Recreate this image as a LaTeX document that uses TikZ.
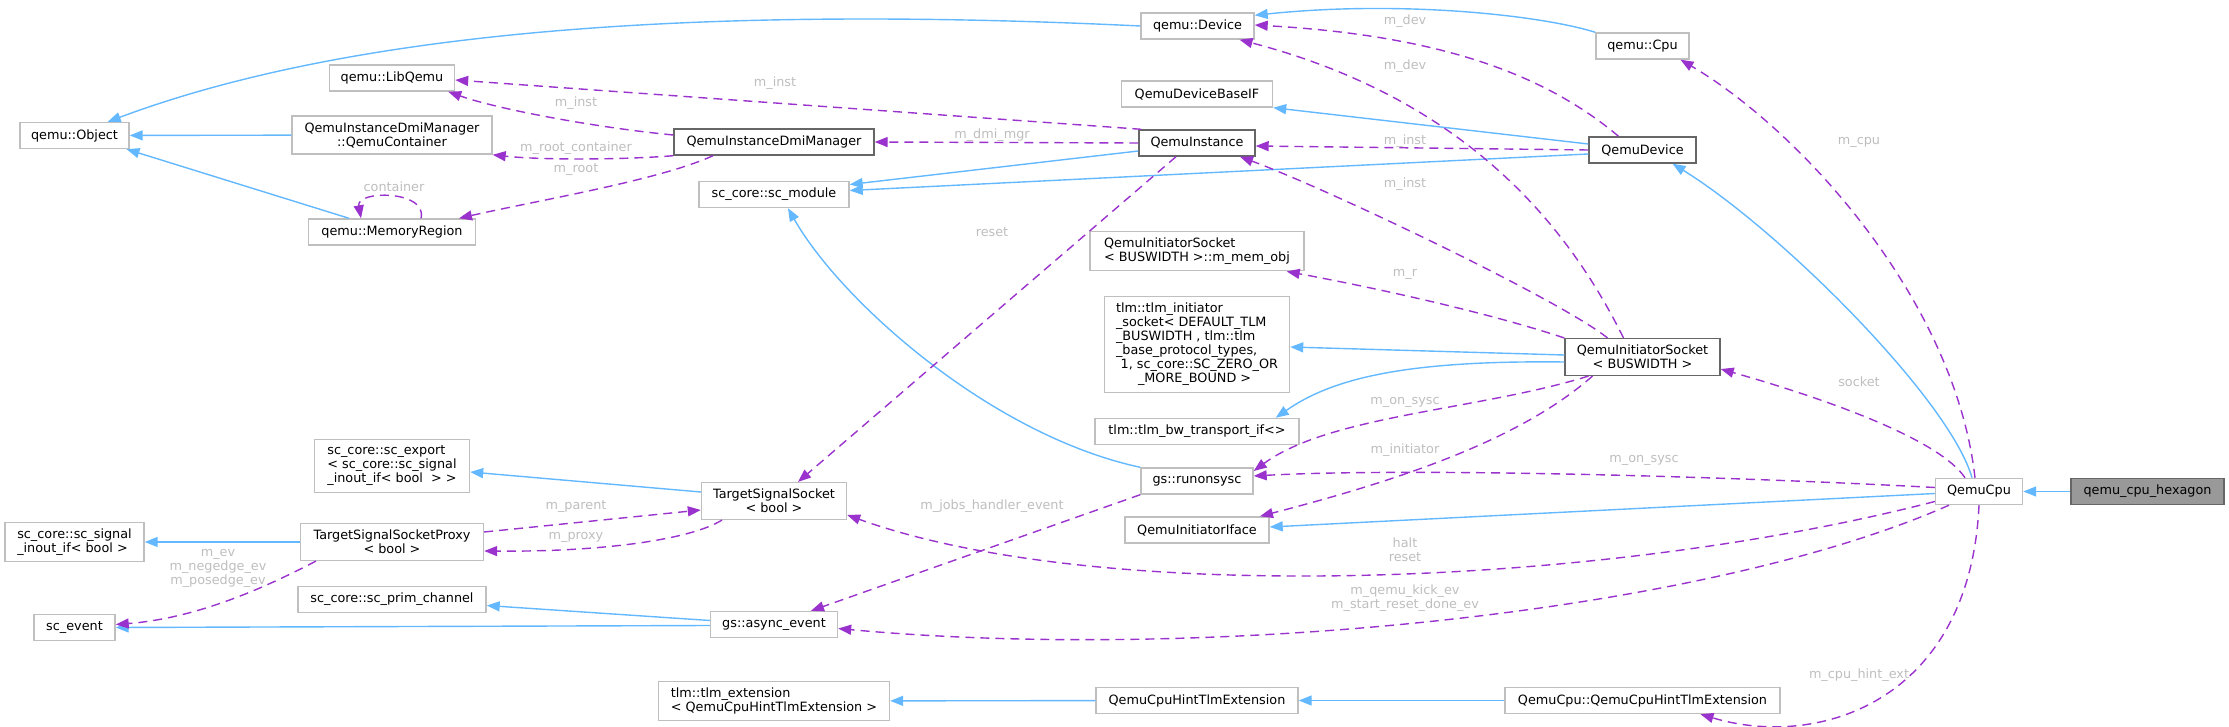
\documentclass[tikz,border=0pt]{standalone}
\usepackage{fontspec}
\setmainfont{DejaVu Sans}
\usetikzlibrary{arrows.meta}
\definecolor{edgeblue}{HTML}{63B8FF}
\definecolor{edgepurple}{HTML}{9A32CD}
\definecolor{boxgray}{HTML}{BFBFBF}
\definecolor{docgray}{HTML}{666666}
\definecolor{labelgray}{HTML}{BEBEBE}
\definecolor{hexfill}{HTML}{999999}

\begin{document}
\begin{tikzpicture}[x=0.5pt, y=-0.5pt,
  every node/.style={font=\fontsize{6.4}{7}\selectfont},
  cls/.style={draw=boxgray, line width=0.7pt, fill=white, inner xsep=0pt, inner ysep=3.2pt, minimum height=13pt},
  doc/.style={cls, draw=docgray},
  inh/.style={edgeblue, line width=0.7pt, -{Triangle[length=6.5pt,width=5pt]}},
  use/.style={edgepurple, line width=0.7pt, dash pattern=on 4.5pt off 3pt, -{Triangle[length=6.5pt,width=5pt]}},
  lbl/.style={text=labelgray, inner sep=0pt, align=center}]
\useasboundingbox (0,0) rectangle (2229,727);

\node[cls, minimum width=54.5pt] (obj) at (74.5,135.5) {qemu::Object};
\node[cls, minimum width=62.5pt] (libq) at (392,78) {qemu::LibQemu};
\node[cls, minimum width=100pt, align=center] (cont) at (392,135) {QemuInstanceDmiManager\\::QemuContainer};
\node[cls, minimum width=83.5pt] (memreg) at (392,232) {qemu::MemoryRegion};
\node[doc, minimum width=100pt] (dmi) at (774,142) {QemuInstanceDmiManager};
\node[cls, minimum width=75pt] (scmod) at (774,194.5) {sc\_core::sc\_module};
\node[cls, minimum width=56.5pt] (dev) at (1197.5,26) {qemu::Device};
\node[cls, minimum width=75.5pt] (baseif) at (1197,94) {QemuDeviceBaseIF};
\node[doc, minimum width=58pt] (inst) at (1197,143) {QemuInstance};
\node[cls, minimum width=107pt, align=left] (memobj) at (1197,251) {QemuInitiatorSocket\\< BUSWIDTH >::m\_mem\_obj};
\node[cls, minimum width=92.5pt, align=left] (tlminit) at (1197,344.5) {tlm::tlm\_initiator\\\_socket< DEFAULT\_TLM\\\_BUSWIDTH , tlm::tlm\\\_base\_protocol\_types,\\\hspace*{2.3pt}1, sc\_core::SC\_ZERO\_OR\\\hspace*{11pt}\_MORE\_BOUND >};
\node[cls, minimum width=102pt] (bwif) at (1197,431.5) {tlm::tlm\_bw\_transport\_if<>};
\node[cls, minimum width=56pt] (runon) at (1197,481) {gs::runonsysc};
\node[cls, minimum width=72pt] (iface) at (1197,530) {QemuInitiatorIface};
\node[cls, minimum width=72.5pt, align=center] (tss) at (774,501) {TargetSignalSocket\\< bool >};
\node[cls, minimum width=63.5pt] (aev) at (774,624.5) {gs::async\_event};
\node[cls, minimum width=101pt] (hintext) at (1197,700.5) {QemuCpuHintTlmExtension};
\node[cls, minimum width=115.5pt, align=left] (tlmext) at (774,701) {tlm::tlm\_extension\\< QemuCpuHintTlmExtension >};
\node[cls, minimum width=77.5pt, align=left] (export) at (392,466) {sc\_core::sc\_export\\< sc\_core::sc\_signal\\\_inout\_if< bool\ \ > >};
\node[cls, minimum width=69.5pt, align=left] (sigif) at (74.5,542) {sc\_core::sc\_signal\\\_inout\_if< bool >};
\node[cls, minimum width=91.5pt, align=center] (proxy) at (392,542) {TargetSignalSocketProxy\\< bool >};
\node[cls, minimum width=94pt] (prim) at (392,599.5) {sc\_core::sc\_prim\_channel};
\node[cls, minimum width=40.5pt] (event) at (74.5,627.5) {sc\_event};
\node[cls, minimum width=46.5pt] (cpu) at (1642.5,46) {qemu::Cpu};
\node[doc, minimum width=53.5pt] (qdev) at (1642.5,150) {QemuDevice};
\node[doc, minimum width=77.5pt, align=center] (qis) at (1642.5,357) {QemuInitiatorSocket\\< BUSWIDTH >};
\node[cls, minimum width=43.5pt] (qcpu) at (1979,491.5) {QemuCpu};
\node[cls, draw=docgray, fill=hexfill, minimum width=76.5pt] (hex) at (2147.5,491.5) {qemu\_cpu\_hexagon};
\node[cls, minimum width=137.5pt] (cpuhint) at (1642.5,700.5) {QemuCpu::QemuCpuHintTlmExtension};

\draw[inh] (dev.west) .. controls (600,0) and (300,50) .. ([xshift=-11pt]obj.north east);
\draw[inh] (cont) -- (obj);
\draw[inh] ([xshift=-21.5pt]memreg.north) -- ([xshift=26pt]obj.south);
\draw[inh] (cpu.north west) .. controls (1540,15) and (1400,0) .. ([yshift=-1.5pt]dev.north east);
\draw[inh] ([yshift=3pt]qdev.west) -- (baseif.south east);
\draw[inh] ([yshift=-2pt]qdev.west) -- ([yshift=2pt]scmod.east);
\draw[inh] ([yshift=-4pt]inst.west) -- ([yshift=5pt]scmod.east);
\draw[inh] (runon.north west) .. controls (990,435) and (840,300) .. ([xshift=7pt]scmod.south);
\draw[inh] ([yshift=1pt]qis.west) -- ([yshift=-1.25pt]tlminit.east);
\draw[inh] ([yshift=-2.5pt]qis.west) .. controls (1400,360) and (1330,380) .. ([xshift=-12pt]bwif.north east);
\draw[inh] ([xshift=-3.5pt]qcpu.north) .. controls (1950,400) and (1780,230) .. ([xshift=15pt]qdev.south);
\draw[inh] ([yshift=-1pt]qcpu.west) -- ([yshift=1.5pt]iface.east);
\draw[inh] (hex) -- (qcpu);
\draw[inh] ([yshift=4.5pt]tss.west) -- ([yshift=-3pt]export.east);
\draw[inh] (proxy) -- (sigif);
\draw[inh] ([yshift=2pt]aev.west) -- ([yshift=-3pt]prim.east);
\draw[inh] ([yshift=-0.5pt]aev.west) -- (event.east);
\draw[inh] (hintext) -- (tlmext);
\draw[inh] (cpuhint) -- (hintext);

\draw[use] ([xshift=1.5pt]inst.north west) -- ([yshift=-1pt]libq.east);
\draw[use] ([yshift=3.5pt]dmi.west) .. controls (600,128) and (500,110) .. ([xshift=-3.5pt]libq.south east);
\draw[use] (dmi.south west) .. controls (620,160) and (540,160) .. (cont.south east);
\draw[use] ([xshift=-30.5pt]dmi.south) .. controls (660,180) and (540,200) .. ([xshift=33.5pt]memreg.north);
\draw[use] ([xshift=14.5pt]memreg.north) .. controls (428,190) and (356,190) .. ([xshift=-15.5pt]memreg.north);
\draw[use] (inst.west) -- (dmi.east);
\draw[use] ([xshift=-12pt]qdev.north) .. controls (1540,70) and (1430,35) .. ([yshift=0.5pt]dev.east);
\draw[use] ([xshift=-9.5pt]qis.north) .. controls (1570,230) and (1470,100) .. ([xshift=21pt]dev.south);
\draw[use] (qdev.west) -- ([yshift=-1.5pt]inst.east);
\draw[use] ([xshift=-17.5pt]qis.north) .. controls (1560,300) and (1330,190) .. ([xshift=21.5pt]inst.south);
\draw[use] ([xshift=-10.5pt]inst.south) -- ([xshift=12pt]tss.north);
\draw[use] (qis.north west) .. controls (1480,310) and (1360,285) .. ([xshift=-9pt]memobj.south east);
\draw[use] ([xshift=-27pt]qis.south) .. controls (1480,410) and (1330,415) .. ([yshift=5pt]runon.east);
\draw[use] ([xshift=-25pt]qis.south) .. controls (1520,440) and (1400,480) .. ([xshift=31.5pt]iface.north);
\draw[use] ([xshift=-2pt]qcpu.north) .. controls (1955,300) and (1800,130) .. ([xshift=19pt]cpu.south);
\draw[use] ([xshift=-7pt]qcpu.north) .. controls (1940,440) and (1830,400) .. ([yshift=3.5pt]qis.south east);
\draw[use] ([yshift=2pt]qcpu.west) .. controls (1700,475) and (1400,468) .. ([yshift=2.5pt]runon.east);
\draw[use] ([yshift=-5pt]qcpu.west) .. controls (1600,588) and (1100,606) .. ([yshift=-7pt]tss.east);
\draw[use] ([xshift=-15pt]qcpu.south) .. controls (1700,615) and (1200,662) .. ([yshift=-2pt]aev.east);
\draw[use] (qcpu.south) .. controls (1970,700) and (1820,750) .. ([xshift=29pt]cpuhint.south);
\draw[use] (runon.south west) -- ([xshift=18.5pt]aev.north);
\draw[use] ([yshift=5pt]proxy.east) -- ([yshift=-4.5pt]tss.west);
\draw[use] ([xshift=-26pt]tss.south) .. controls (690,540) and (600,552) .. ([yshift=-4.5pt]proxy.east);
\draw[use] ([xshift=-38pt]proxy.south) .. controls (270,585) and (200,618) .. ([yshift=1.5pt]event.east);

\node[lbl] (lInstLib) at (775,83) {m\_inst};
\node[lbl] (lDmiLib) at (576,103) {m\_inst};
\node[lbl] (lRootCont) at (576,148) {m\_root\_container};
\node[lbl] (lRoot) at (576,170) {m\_root};
\node[lbl] (lContainer) at (394,187) {container};
\node[lbl] (lDmiMgr) at (992,135) {m\_dmi\_mgr};
\node[lbl] (lDev1) at (1405,21) {m\_dev};
\node[lbl] (lDev2) at (1405,66) {m\_dev};
\node[lbl] (lInst1) at (1405,141) {m\_inst};
\node[lbl] (lInst2) at (1405,184) {m\_inst};
\node[lbl] (lReset) at (992,232) {reset};
\node[lbl] (lR) at (1405,274) {m\_r};
\node[lbl] (lOnSysc1) at (1405,402) {m\_on\_sysc};
\node[lbl] (lInitiator) at (1405,450) {m\_initiator};
\node[lbl] (lCpu) at (1859,142) {m\_cpu};
\node[lbl] (lSocket) at (1859,382) {socket};
\node[lbl] (lOnSysc2) at (1644,460) {m\_on\_sysc};
\node[lbl] (lHalt) at (1405,550) {halt\\reset};
\node[lbl] (lKick) at (1405,598.5) {m\_qemu\_kick\_ev\\m\_start\_reset\_done\_ev};
\node[lbl] (lHint) at (1859,675) {m\_cpu\_hint\_ext};
\node[lbl] (lJobs) at (992,506) {m\_jobs\_handler\_event};
\node[lbl] (lParent) at (576,507) {m\_parent};
\node[lbl] (lProxy) at (576,537) {m\_proxy};
\node[lbl] (lEv) at (218,568) {m\_ev\\m\_negedge\_ev\\m\_posedge\_ev};
\end{tikzpicture}
\end{document}
